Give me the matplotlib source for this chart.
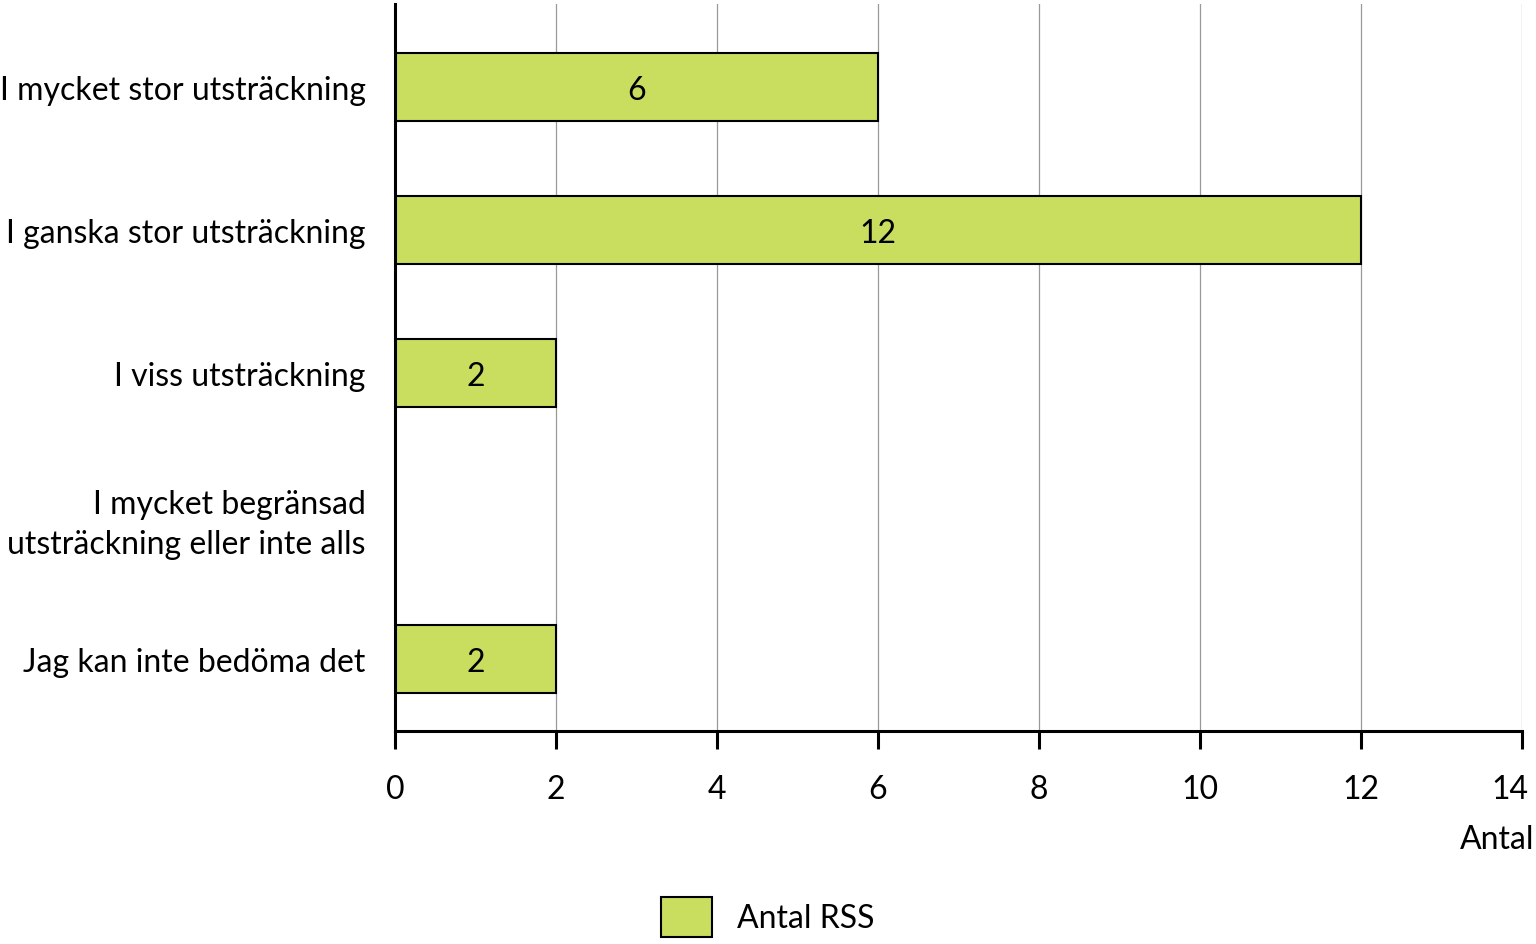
import matplotlib
matplotlib.use("Agg")
import matplotlib.pyplot as plt
import matplotlib.transforms as mtransforms
from matplotlib.patches import Patch

categories = ["I mycket stor utsträckning", "I ganska stor utsträckning", "I viss utsträckning",
              "I mycket begränsad\nutsträckning eller inte alls", "Jag kan inte bedöma det"]
values = [6, 12, 2, 0, 2]
series_name = "Antal RSS"
x_ticks = [0, 2, 4, 6, 8, 10, 12, 14]
x_label = "Antal"

bar_color = "#C9DD5F"
plt.rcParams['font.family'] = ['Lato', 'DejaVu Sans']
fs = 23

fig = plt.figure(figsize=(15.36, 9.45), dpi=100)
ax = fig.add_axes([395/1536, 1-732/945, (1522-395)/1536, (732-5)/945])

pos = list(range(len(categories)))
bars = ax.barh(pos, values, height=0.475, color=bar_color, edgecolor="black", linewidth=1.5, zorder=3)
for p, v in zip(pos, values):
    if v > 0:
        ax.text(v/2, p, str(v), ha="center", va="center_baseline", fontsize=fs, zorder=4)

ax.set_ylim(4.50, -0.58)
ax.set_xlim(0, 14)
ax.set_xticks(x_ticks)
ax.set_xticklabels([str(t) for t in x_ticks], fontsize=fs)
ax.set_yticks(pos)
ax.set_yticklabels(categories, fontsize=fs, linespacing=1.4)
ax.tick_params(axis="y", length=0, pad=21)
ax.tick_params(axis="x", length=13, width=2.2, direction="out", pad=18, color="black")
ax.grid(axis="x", color="#999999", linewidth=0.9, zorder=0)
for s in ["top", "right"]:
    ax.spines[s].set_visible(False)
ax.spines["left"].set_linewidth(2.2)
ax.spines["bottom"].set_linewidth(2.2)
ax.spines["left"].set_zorder(5)

# keep the last tick label inside the figure
last = ax.get_xticklabels()[-1]
last.set_transform(last.get_transform() + mtransforms.ScaledTranslation(-12/100, 0, fig.dpi_scale_trans))

fig.text(1534/1536, 1-840/945, x_label, ha="right", va="center", fontsize=fs)

handle = Patch(facecolor=bar_color, edgecolor="black", linewidth=1.5)
fig.legend([handle], [series_name], loc="center", bbox_to_anchor=(768/1536, 1-918/945),
           frameon=False, fontsize=fs, handlelength=1.57, handleheight=1.57, handletextpad=0.8)

fig.savefig("out.png", dpi=100)
